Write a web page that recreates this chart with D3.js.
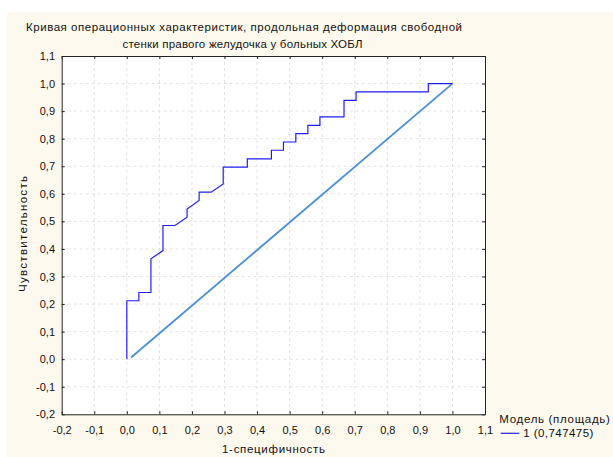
<!DOCTYPE html>
<html>
<head>
<meta charset="utf-8">
<script src="https://cdn.jsdelivr.net/npm/d3@7"></script>
<style>
  html, body { margin: 0; padding: 0; background: #fff; }
  svg { display: block; }
  text { font-family: "Liberation Sans", Arial, sans-serif; fill: #111; }
</style>
</head>
<body>
<svg id="chart" width="613" height="457"></svg>
<script>
// ROC step curve (1-specificity, sensitivity)
const rocX = [0.000, 0.000, 0.037, 0.037, 0.074, 0.074, 0.111, 0.111, 0.148, 0.185, 0.185, 0.222, 0.222, 0.259, 0.296, 0.296, 0.370, 0.370, 0.444, 0.444, 0.481, 0.481, 0.519, 0.519, 0.556, 0.556, 0.593, 0.593, 0.667, 0.667, 0.704, 0.704, 0.926, 0.926, 1.000];
const rocY = [0.000, 0.212, 0.212, 0.242, 0.242, 0.364, 0.394, 0.485, 0.485, 0.515, 0.545, 0.576, 0.606, 0.606, 0.636, 0.697, 0.697, 0.727, 0.727, 0.758, 0.758, 0.788, 0.788, 0.818, 0.818, 0.848, 0.848, 0.879, 0.879, 0.939, 0.939, 0.970, 0.970, 1.000, 1.000];
// reference diagonal
const diagX = [0.013, 1.0];
const diagY = [0.006, 1.0];

const xTicks = d3.range(-2, 12).map(d => d / 10);
const yTicks = d3.range(-2, 12).map(d => d / 10);

const titleLines = ["Кривая операционных характеристик, продольная деформация свободной",
                    "стенки правого желудочка у больных ХОБЛ"];
const legendTitle = "Модель (площадь)";
const legendLabel = "1 (0,747475)";

const svg = d3.select("#chart");
const W = 613, H = 457;
const m = {left: 61.7, right: 485, top: 56, bottom: 414.3};

// cream page background
svg.append("rect").attr("x", 7).attr("y", 12).attr("width", W - 7).attr("height", H - 12).attr("fill", "#fef9ee");

const x = d3.scaleLinear().domain([-0.2, 1.1]).range([m.left, m.right]);
const y = d3.scaleLinear().domain([-0.2, 1.1]).range([m.bottom, m.top]);
const fmt = d => d3.format(".1f")(d).replace(".", ",").replace("−", "-");

svg.append("rect").attr("x", m.left).attr("y", m.top)
   .attr("width", m.right - m.left).attr("height", m.bottom - m.top).attr("fill", "#fff");

// grid
const grid = svg.append("g").attr("stroke", "#e2e2e2").attr("stroke-dasharray", "3,3").attr("stroke-width", 1);
xTicks.slice(1, -1).forEach(t => grid.append("line").attr("x1", x(t)).attr("x2", x(t)).attr("y1", m.top).attr("y2", m.bottom));
yTicks.slice(1, -1).forEach(t => grid.append("line").attr("y1", y(t)).attr("y2", y(t)).attr("x1", m.left).attr("x2", m.right));

// axes with inner ticks on all sides
const axB = svg.append("g").attr("transform", `translate(0,${m.bottom})`)
   .call(d3.axisBottom(x).tickValues(xTicks).tickSizeInner(-3).tickSizeOuter(0).tickPadding(11.5).tickFormat(fmt));
const axT = svg.append("g").attr("transform", `translate(0,${m.top})`)
   .call(d3.axisTop(x).tickValues(xTicks).tickSizeInner(-3).tickSizeOuter(0).tickFormat(""));
const axL = svg.append("g").attr("transform", `translate(${m.left},0)`)
   .call(d3.axisLeft(y).tickValues(yTicks).tickSizeInner(-3).tickSizeOuter(0).tickPadding(6.7).tickFormat(fmt));
const axR = svg.append("g").attr("transform", `translate(${m.right},0)`)
   .call(d3.axisRight(y).tickValues(yTicks).tickSizeInner(-3).tickSizeOuter(0).tickFormat(""));
[axB, axT, axL, axR].forEach(a => {
  a.selectAll("path.domain").attr("stroke", "#222");
  a.selectAll(".tick line").attr("stroke", "#222");
  a.selectAll("text").style("font-size", "11px").attr("fill", "#111");
});

// diagonal
svg.append("path")
   .datum(diagX.map((v, i) => [v, diagY[i]]))
   .attr("d", d3.line().x(d => x(d[0])).y(d => y(d[1])))
   .attr("fill", "none").attr("stroke", "#4b8fd6").attr("stroke-width", 1.8);

// ROC curve
svg.append("path")
   .datum(rocX.map((v, i) => [v, rocY[i]]))
   .attr("d", d3.line().x(d => x(d[0])).y(d => y(d[1])))
   .attr("fill", "none").attr("stroke", "#1f1ff5").attr("stroke-width", 1.2);

// text helper, stretched to the widths seen in the reference
const label = (px, py, str, len, anchor) => svg.append("text")
   .attr("x", px).attr("y", py).attr("text-anchor", anchor || "start")
   .attr("textLength", len).attr("lengthAdjust", "spacing")
   .style("font-size", "11.5px").text(str);

// title
label(244, 31, titleLines[0], 436, "middle");
label(242.5, 48, titleLines[1], 240, "middle");

// axis labels
label(273.5, 453, "1-специфичность", 103, "middle");
label(0, 0, "Чувствительность", 116, "middle").attr("transform", "translate(26.5,234) rotate(-90)");

// legend
label(499.3, 422.7, legendTitle, 110.5);
svg.append("line").attr("x1", 500.7).attr("x2", 519.3).attr("y1", 433.3).attr("y2", 433.3)
   .attr("stroke", "#1f1ff5").attr("stroke-width", 1.2);
label(523.3, 437.3, legendLabel, 70);
</script>
</body>
</html>
